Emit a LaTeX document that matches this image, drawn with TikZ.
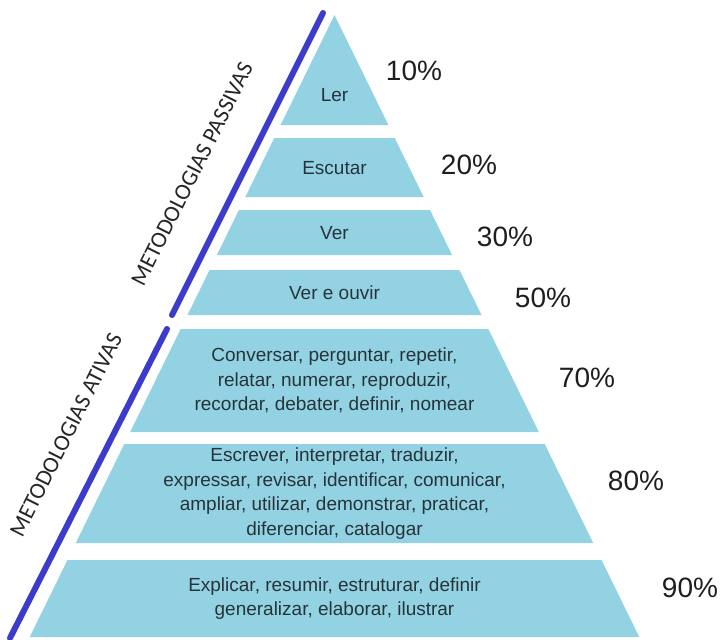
\documentclass[tikz,border=0pt]{standalone}
\usepackage{fontspec}
\setmainfont{Liberation Sans}
\newfontfamily\sidefont{Carlito}
\usepackage{tikz}
\usetikzlibrary{calc}
\usepackage{xcolor}
\definecolor{bandfill}{RGB}{147,210,227}
\definecolor{sideblue}{RGB}{60,60,204}
\definecolor{bandtext}{RGB}{38,52,58}
\definecolor{pcttext}{RGB}{30,30,30}

\tikzset{
  band/.style={fill=bandfill, draw=none},
  bandlabel/.style={text=bandtext, font=\fontsize{19}{24.5}\selectfont, align=center},
  pct/.style={text=pcttext, font=\fontsize{28}{30}\selectfont},
  sideline/.style={sideblue, line width=6pt, line cap=round},
  sidelabel/.style={text=black!85, font=\sidefont\fontsize{23}{26}\selectfont, rotate=63.4},
}

\begin{document}
\begin{tikzpicture}[x=1pt, y=-1pt]
  \useasboundingbox (0,0) rectangle (724,640);

  % pyramid bands (top/bottom), apex at (334.5,15)
  \foreach \t/\b in {15/125, 138/197, 210/255, 270/315, 329/432, 444/543, 560/637}
    \fill[band] ({334.5-0.49*(\t-15)},\t) -- ({334.5+0.49*(\t-15)},\t)
      -- ({334.5+0.49*(\b-15)},\b) -- ({334.5-0.49*(\b-15)},\b) -- cycle;

  % band texts
  \node[bandlabel] (ler) at (334.5,95) {Ler};
  \node[bandlabel] (escutar) at (334.5,168) {Escutar};
  \node[bandlabel] (ver) at (334.5,233) {Ver};
  \node[bandlabel] (verouvir) at (334.5,293) {Ver e ouvir};
  \node[bandlabel] (conversar) at (334.5,380.5) {Conversar, perguntar, repetir,\\relatar, numerar, reproduzir,\\recordar, debater, definir, nomear};
  \node[bandlabel] (escrever) at (334.5,493.5) {Escrever, interpretar, traduzir,\\expressar, revisar, identificar, comunicar,\\ampliar, utilizar, demonstrar, praticar,\\diferenciar, catalogar};
  \node[bandlabel] (explicar) at (334.5,598.5) {Explicar, resumir, estruturar, definir\\generalizar, elaborar, ilustrar};

  % retention rates
  \node[pct] (p10) at (414,71) {10\%};
  \node[pct] (p20) at (469,165) {20\%};
  \node[pct] (p30) at (505,237) {30\%};
  \node[pct] (p50) at (543,298) {50\%};
  \node[pct] (p70) at (587,378) {70\%};
  \node[pct] (p80) at (636,481) {80\%};
  \node[pct] (p90) at (690,588) {90\%};

  % passive / active brackets
  \coordinate (pastop) at (323,13);
  \coordinate (pasbot) at (172,315);
  \coordinate (ativtop) at (167,329);
  \coordinate (ativbot) at (10,638);
  \draw[sideline] (pastop) -- (pasbot);
  \draw[sideline] (ativtop) -- (ativbot);

  \node[sidelabel] (passivas) at (192,174) {METODOLOGIAS PASSIVAS};
  \node[sidelabel] (ativas) at (66,435) {METODOLOGIAS ATIVAS};
\end{tikzpicture}
\end{document}
